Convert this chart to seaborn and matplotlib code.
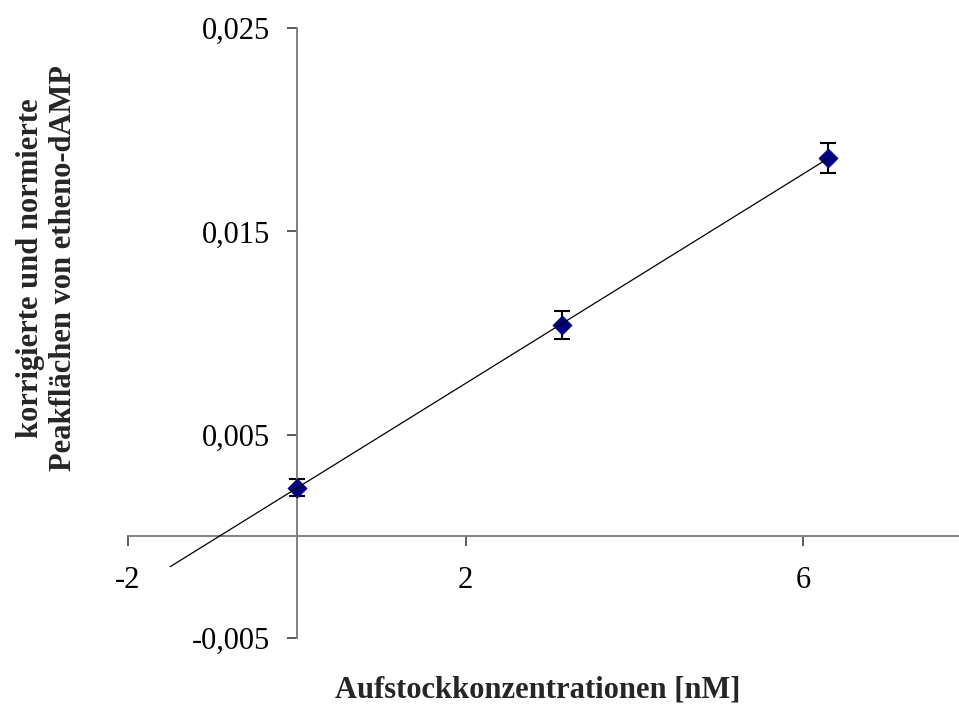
import numpy as np
import pandas as pd
import matplotlib
matplotlib.use("Agg")
import matplotlib.pyplot as plt
import seaborn as sns

# Data
conc_nM = [0.0, 3.14, 6.29]
peak_area = [0.0024, 0.0104, 0.0186]
peak_err = [0.00044, 0.0007, 0.00074]

x_ticks = [-2, 2, 6]
x_ticklabels = ["-2", "2", "6"]
y_ticks = [-0.005, 0.005, 0.015, 0.025]
y_ticklabels = ["-0,005", "0,005", "0,015", "0,025"]

x_label = "Aufstockkonzentrationen [nM]"
y_label = "korrigierte und normierte\nPeakflächen von etheno-dAMP"

trend_backward = 1.5

sns.set_theme(style="white")
plt.rcParams["font.family"] = ["Liberation Serif", "DejaVu Serif"]

df = pd.DataFrame({"x": conc_nM, "y": peak_area, "err": peak_err})

fig = plt.figure(figsize=(9.59, 7.09), dpi=100)
W, H = 959, 709
ax = fig.add_axes([128 / W, (H - 638) / H, (W - 128) / W, (638 - 28) / H])

# trend line (linear fit computed from data)
slope, intercept = np.polyfit(df["x"], df["y"], 1)
tx = np.array([df["x"].min() - trend_backward, df["x"].max()])
trend = pd.DataFrame({"x": tx, "y": slope * tx + intercept})

ax.errorbar(df["x"], df["y"], yerr=df["err"], fmt="none", ecolor="black",
            elinewidth=1.5, capsize=5.8, capthick=1.5, zorder=2)
sns.scatterplot(data=df, x="x", y="y", ax=ax, marker="D", s=95,
                color="#000080", edgecolor="#000080", linewidth=0.5, zorder=3)
sns.lineplot(data=trend, x="x", y="y", ax=ax, color="black", linewidth=0.9,
             zorder=4, estimator=None, sort=False)

ax.set_xlim(-2, -2 + (W - 128) / 84.4)
ax.set_ylim(-0.005, 0.025)

for s in ["top", "right"]:
    ax.spines[s].set_visible(False)
ax.spines["left"].set_position(("data", 0))
ax.spines["bottom"].set_position(("data", 0))
for s in ["left", "bottom"]:
    ax.spines[s].set_color("#808080")
    ax.spines[s].set_linewidth(1.4)

ax.set_xticks(x_ticks)
ax.set_xticklabels(x_ticklabels)
ax.set_yticks(y_ticks)
ax.set_yticklabels(y_ticklabels)
ax.tick_params(axis="both", direction="out", length=7, width=1.2, color="#404040",
               labelsize=22, labelcolor="black")
ax.tick_params(axis="x", pad=14, bottom=True)
ax.tick_params(axis="y", pad=12, left=True)
ax.set_xlabel("")
ax.set_ylabel("")
ax.grid(False)
ax.set_facecolor("white")

fig.text(538 / W, 1 - 690 / H, x_label, ha="center", va="center",
         fontsize=22, fontweight="bold")
fig.text(47 / W, 1 - 268 / H, y_label, ha="center", va="center",
         rotation=90, fontsize=22, fontweight="bold", linespacing=1.2,
         multialignment="center")

fig.savefig("out.png", dpi=100)
